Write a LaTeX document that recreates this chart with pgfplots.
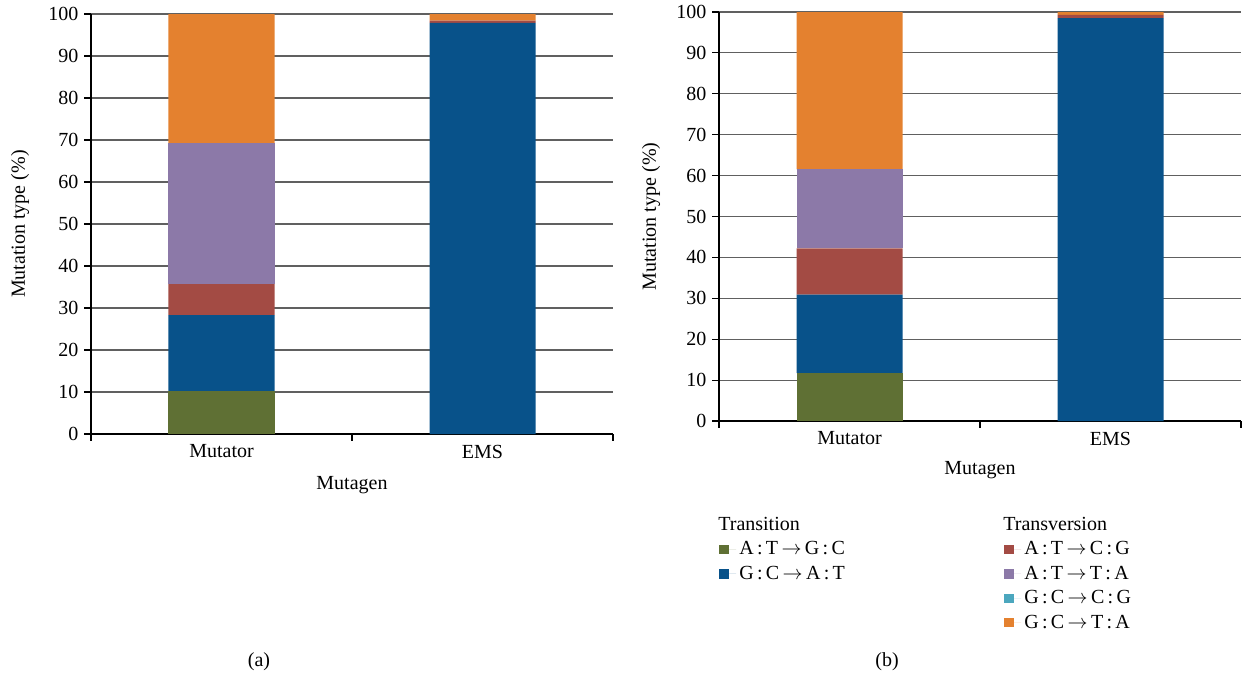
\documentclass[border=0pt]{standalone}
\usepackage{pgfplots}
\pgfplotsset{compat=1.18}
\usepackage{fontspec}
\setmainfont{Liberation Serif}
\definecolor{cgreen}{RGB}{95,112,52}
\definecolor{cblue}{RGB}{8,82,138}
\definecolor{cred}{RGB}{163,75,68}
\definecolor{cpurple}{RGB}{140,121,168}
\definecolor{ccyan}{RGB}{75,167,190}
\definecolor{corange}{RGB}{228,129,47}
\newcommand{\ab}[2]{#1\,:\,#2}
\newcommand{\ar}{\,$\rightarrow$\,}
\newcommand{\myfont}{\fontsize{12}{14}\selectfont}
\pgfplotsset{
  mystyle/.style={
    scale only axis,
    width=313.2pt,
    ybar stacked,
    bar width=63.6pt,
    ymin=0, ymax=100,
    xmin=-0.5, xmax=1.5,
    ytick={0,10,...,100},
    xtick={-0.5,0.5,1.5},
    xticklabels={},
    extra x ticks={0,1},
    extra x tick labels={Mutator,EMS},
    extra x tick style={major tick length=0pt, grid=none, xticklabel style={yshift=-3pt}},
    axis x line=bottom,
    axis y line=left,
    axis line style={-, black, line width=0.7pt},
    tick align=outside,
    major tick length=4pt,
    tick style={black, line width=0.7pt},
    ymajorgrids,
    grid style={gray!75!black, line width=0.7pt},
    /pgf/number format/assume math mode=true,
    tick label style={font=\myfont},
    label style={font=\myfont},
    xlabel={Mutagen},
    ylabel={Mutation type (\%)},
    every axis plot/.append style={draw=none},
    clip=false,
  }
}
\begin{document}
\begin{tikzpicture}
\useasboundingbox (0pt,0pt) rectangle (745.2pt,-408pt);
% Panel (a)
\begin{axis}[mystyle, height=252pt,
  at={(54.6pt,-260.4pt)}, anchor=south west,
  xlabel style={at={(rel axis cs:0.5,0)}, anchor=center, yshift=-30.5pt},
  ylabel style={at={(rel axis cs:0,0.5)}, anchor=center, yshift=42.6pt},
]
\addplot[fill=cgreen] coordinates {(0,10.3) (1,0)};
\addplot[fill=cblue] coordinates {(0,18.0) (1,97.9)};
\addplot[fill=cred] coordinates {(0,7.4) (1,0.5)};
\addplot[fill=cpurple] coordinates {(0,33.5) (1,0)};
\addplot[fill=ccyan] coordinates {(0,0) (1,0)};
\addplot[fill=corange] coordinates {(0,30.8) (1,1.6)};
\end{axis}
% Panel (b)
\begin{axis}[mystyle, height=245.4pt,
  at={(431.4pt,-252.6pt)}, anchor=south west,
  xlabel style={at={(rel axis cs:0.5,0)}, anchor=center, yshift=-29.4pt},
  ylabel style={at={(rel axis cs:0,0.5)}, anchor=center, yshift=40.8pt},
  legend columns=2,
  legend cell align=left,
  legend style={draw=none, fill=none, at={(rel axis cs:0,-0.218)}, anchor=north west,
    xshift=-3pt, font=\myfont, row sep=1.2pt},
  legend image code/.code={\fill[#1] (0pt,-2.8pt) rectangle (5.6pt,2.8pt); \path (0pt,0pt) -- (10pt,0pt);},
]
\addplot[fill=cgreen, forget plot] coordinates {(0,11.7) (1,0)};
\addplot[fill=cblue, forget plot] coordinates {(0,19.2) (1,98.5)};
\addplot[fill=cred, forget plot] coordinates {(0,11.3) (1,0.8)};
\addplot[fill=cpurple, forget plot] coordinates {(0,19.3) (1,0)};
\addplot[fill=ccyan, forget plot] coordinates {(0,0) (1,0)};
\addplot[fill=corange, forget plot] coordinates {(0,38.5) (1,0.7)};
\addlegendimage{empty legend}
\addlegendentry{\hspace*{-12.6pt}\makebox[169.6pt][l]{Transition}}
\addlegendimage{empty legend}
\addlegendentry{\hspace*{-12.6pt}Transversion}
\addlegendimage{fill=cgreen}
\addlegendentry{\ab{A}{T}\ar\ab{G}{C}}
\addlegendimage{fill=cred}
\addlegendentry{\ab{A}{T}\ar\ab{C}{G}}
\addlegendimage{fill=cblue}
\addlegendentry{\ab{G}{C}\ar\ab{A}{T}}
\addlegendimage{fill=cpurple}
\addlegendentry{\ab{A}{T}\ar\ab{T}{A}}
\addlegendimage{empty legend}
\addlegendentry{}
\addlegendimage{fill=ccyan}
\addlegendentry{\ab{G}{C}\ar\ab{C}{G}}
\addlegendimage{empty legend}
\addlegendentry{}
\addlegendimage{fill=corange}
\addlegendentry{\ab{G}{C}\ar\ab{T}{A}}
\end{axis}
\node[font=\myfont] at (155.4pt,-397.2pt) {(a)};
\node[font=\myfont] at (532.2pt,-397.2pt) {(b)};
\end{tikzpicture}
\end{document}
